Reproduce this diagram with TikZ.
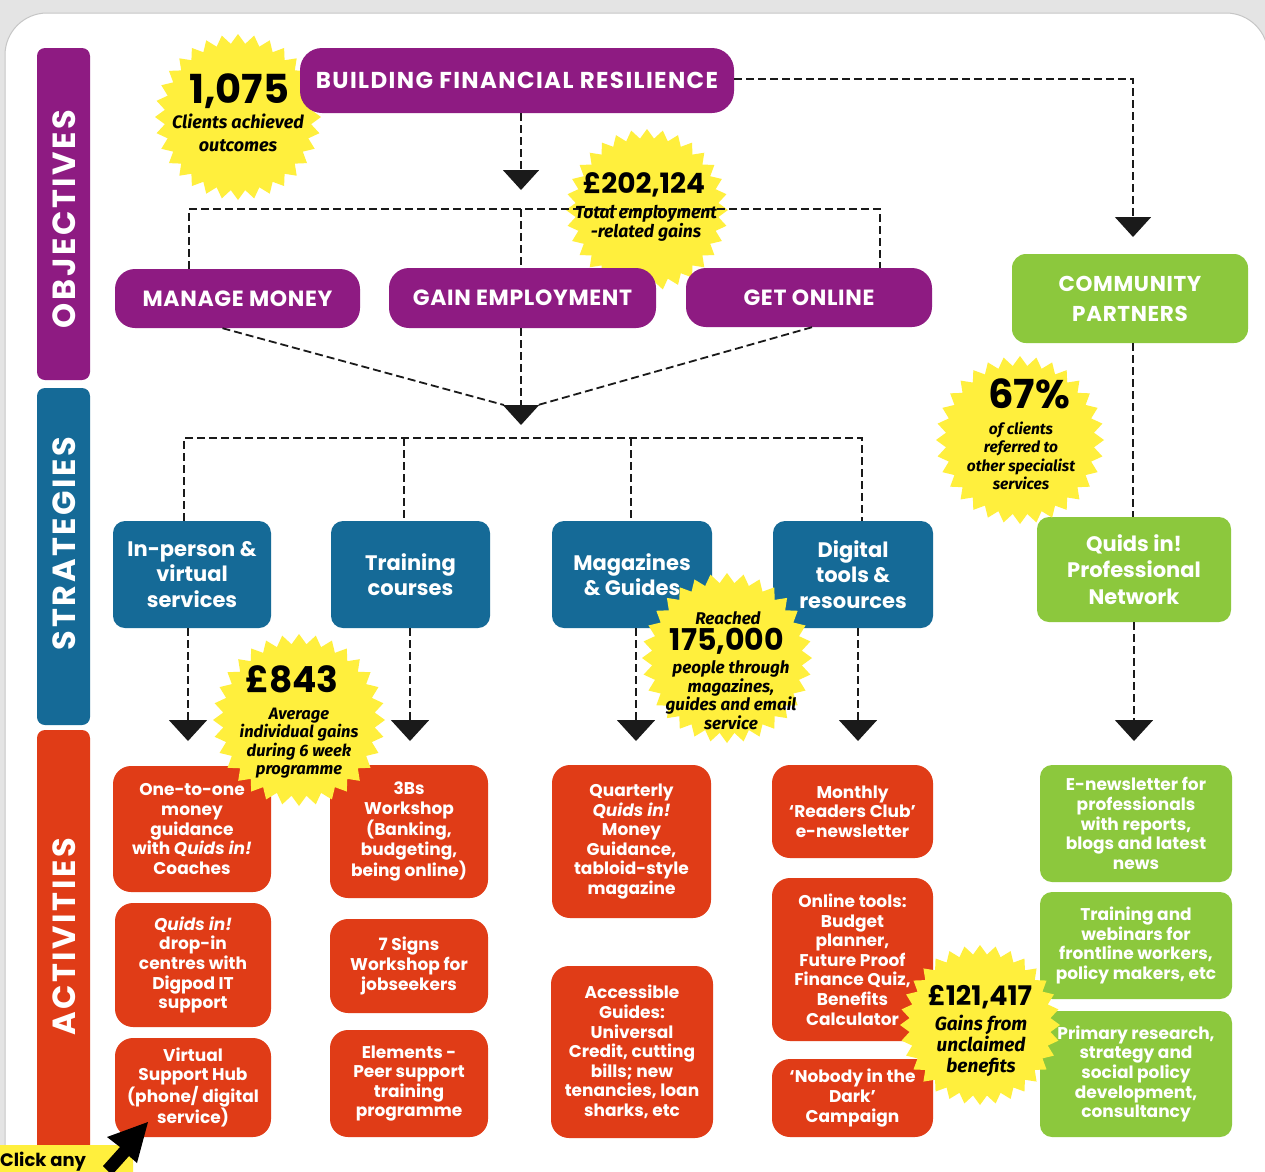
\documentclass[tikz,border=0pt]{standalone}
\usepackage{fontspec}
\setmainfont{Poppins}
\newfontfamily\hand{Fira Sans}
\usetikzlibrary{shapes.geometric,arrows.meta}
\definecolor{qpurple}{HTML}{8E1B82}
\definecolor{qblue}{HTML}{156A97}
\definecolor{qred}{HTML}{E03C17}
\definecolor{qgreen}{HTML}{8CC83D}
\definecolor{qyellow}{HTML}{FFEF3D}
\definecolor{qline}{HTML}{1A1A1A}
\definecolor{qbg}{HTML}{E4E4E4}
\newcommand\qfs[2]{\fontsize{#1}{#2}\selectfont}
\begin{document}
\begin{tikzpicture}[x=1pt,y=-1pt,
  obox/.style={fill=qpurple, rounded corners=20pt, text=white, font=\bfseries\qfs{22}{30}\addfontfeatures{LetterSpace=3}, align=center, inner sep=0pt},
  sbox/.style={fill=qblue, rounded corners=12pt, text=white, font=\bfseries\qfs{21}{25.5}, align=center, inner sep=0pt},
  abox/.style={fill=qred, rounded corners=18pt, text=white, font=\bfseries\qfs{17}{19.6}, align=center, inner sep=0pt},
  gbox/.style={fill=qgreen, rounded corners=12pt, text=white, font=\bfseries\qfs{17}{19.6}, align=center, inner sep=0pt},
  band/.style={rounded corners=8pt, inner sep=0pt, minimum width=53pt},
  bandtext/.style={rotate=90, text=white, font=\bfseries\qfs{32}{32}\addfontfeatures{LetterSpace=8}},
  dline/.style={draw=qline, line width=1.8pt, dash pattern=on 8pt off 4pt},
  arr/.style={-{Triangle[width=36pt,length=20pt]}},
  burst/.style={star, star points=32, star point ratio=1.13, fill=qyellow, inner sep=0pt},
  num/.style={font=\bfseries, text=black, inner sep=0pt},
  desc/.style={text=black, align=center, inner sep=0pt}
]
\useasboundingbox (0,0) rectangle (1265,1171);
\clip (0,0) rectangle (1265,1171);
% background card
\fill[qbg] (0,0) rectangle (1265,1171);
\filldraw[fill=white, draw=gray!45, line width=1pt, rounded corners=42pt] (5,13) rectangle (1268,1260);

% side bands
\node[band, fill=qpurple, minimum height=332pt] (objband) at (63.5,214) {};
\node[bandtext] (objtext) at (64,219) {OBJECTIVES};
\node[band, fill=qblue, minimum height=337pt] (strband) at (63.5,556.5) {};
\node[bandtext] (strtext) at (64,543.5) {STRATEGIES};
\node[band, fill=qred, minimum height=470pt] (actband) at (63.5,965) {};
\node[bandtext] (acttext) at (64,937) {ACTIVITIES};

% bursts under purple boxes
\node[burst, minimum size=166pt] (b1) at (238,117) {};
\node[burst, minimum size=162pt] (b2) at (647,210) {};

% connectors objectives
\coordinate (t1) at (521,190);
\coordinate (h1) at (521,209);
\coordinate (c1) at (1133,79);
\coordinate (c2) at (1133,237);
\coordinate (t2) at (521,425);
\coordinate (d1) at (504,405);
\coordinate (d2) at (538,405);
\coordinate (h2) at (521,438);

% nodes objectives
\node[obox, rounded corners=22pt, minimum width=434pt, minimum height=65pt, font=\bfseries\qfs{23}{25}\addfontfeatures{LetterSpace=6}] (bfr) at (517,80.5) {BUILDING FINANCIAL RESILIENCE};
\node[obox, minimum width=245pt, minimum height=59pt] (mm) at (237.5,298.5) {MANAGE MONEY};
\node[obox, minimum width=267pt, minimum height=60pt] (ge) at (522.5,298) {GAIN EMPLOYMENT};
\node[obox, minimum width=246pt, minimum height=59pt] (go) at (809,297.5) {GET ONLINE};
\node[gbox, rounded corners=14pt, minimum width=236pt, minimum height=89pt, font=\bfseries\qfs{21.5}{30}\addfontfeatures{LetterSpace=3}] (cp) at (1130,298.5) {COMMUNITY\\PARTNERS};

\draw[dline, arr] (bfr.south -| t1) -- (t1);
\draw[dline] (mm.north -| 189,0) -- (189,209) -- (880,209) -- (go.north -| 880,0);
\draw[dline] (h1) -- (ge.north -| h1);
\draw[dline, arr] (bfr.east |- c1) -- (c1) -- (c2);

% strategies
\node[sbox, minimum width=158pt, minimum height=107pt] (s1) at (192,574.5) {In-person \&\\virtual\\services};
\node[sbox, minimum width=159pt, minimum height=107pt] (s2) at (410.5,574.5) {Training\\courses};
\node[sbox, minimum width=160pt, minimum height=107pt] (s3) at (632,574.5) {Magazines\\\& Guides};
\node[sbox, minimum width=160pt, minimum height=107pt] (s4) at (853,574.5) {Digital\\tools \&\\resources};
\node[gbox, minimum width=194pt, minimum height=105pt, font=\bfseries\qfs{21}{26.5}] (pn) at (1134,569.5) {Quids in!\\Professional\\Network};

\draw[dline] ([xshift=-15pt]mm.south) -- (d1);
\draw[dline] ([xshift=3pt]go.south) -- (d2);
\draw[dline, arr] (ge.south -| t2) -- (t2);
\draw[dline] (s1.north -| 184,0) -- (184,438) -- (862,438) -- (s4.north -| 862,0);
\draw[dline] (404,438) -- (s2.north -| 404,0);
\draw[dline] (631,438) -- (s3.north -| 631,0);
\draw[dline] (cp.south -| 1133,0) -- (pn.north -| 1133,0);

% activities
\coordinate (e1) at (188,741);
\coordinate (e2) at (410,741);
\coordinate (e3) at (636,741);
\coordinate (e4) at (858,741);
\coordinate (e5) at (1134,741);
\draw[dline, -{Triangle[width=38pt,length=21pt]}] (s1.south -| e1) -- (e1);
\draw[dline, -{Triangle[width=38pt,length=21pt]}] (s2.south -| e2) -- (e2);
\draw[dline, -{Triangle[width=38pt,length=21pt]}] (s3.south -| e3) -- (e3);
\draw[dline, -{Triangle[width=38pt,length=21pt]}] (s4.south -| e4) -- (e4);
\draw[dline, -{Triangle[width=38pt,length=21pt]}] (pn.south -| e5) -- (e5);

\node[abox, minimum width=158pt, minimum height=126pt] (a11) at (192,829) {One-to-one\\money\\guidance\\with \textit{Quids in!}\\Coaches};
\node[abox, minimum width=156pt, minimum height=124pt] (a12) at (193,965) {\textit{Quids in!}\\drop-in\\centres with\\Digpod IT\\support};
\node[abox, minimum width=156pt, minimum height=99pt] (a13) at (193,1087.5) {Virtual\\Support Hub\\(phone/ digital\\service)};
\node[abox, minimum width=158pt, minimum height=133pt] (a21) at (409,831.5) {3Bs\\Workshop\\(Banking,\\budgeting,\\being online)};
\node[abox, minimum width=158pt, minimum height=94pt] (a22) at (409,966) {7 Signs\\Workshop for\\jobseekers};
\node[abox, minimum width=158pt, minimum height=107pt] (a23) at (409,1083.5) {Elements -\\Peer support\\training\\programme};
\node[abox, minimum width=159pt, minimum height=153pt] (a31) at (631.5,841.5) {Quarterly\\\textit{Quids in!}\\Money\\Guidance,\\tabloid-style\\magazine};
\node[abox, minimum width=162pt, minimum height=172pt] (a32) at (632,1052) {Accessible\\Guides:\\Universal\\Credit, cutting\\bills; new\\tenancies, loan\\sharks, etc};
\node[abox, minimum width=161pt, minimum height=93pt] (a41) at (852.5,811.5) {Monthly\\‘Readers Club’\\e-newsletter};
\node[abox, minimum width=161pt, minimum height=163pt] (a42) at (852.5,959.5) {Online tools:\\Budget\\planner,\\Future Proof\\Finance Quiz,\\Benefits\\Calculator};
\node[abox, minimum width=161pt, minimum height=78pt] (a43) at (852.5,1098) {‘Nobody in the\\Dark’\\Campaign};
\node[gbox, minimum width=192pt, minimum height=117pt] (g1) at (1136,823.5) {E-newsletter for\\professionals\\with reports,\\blogs and latest\\news};
\node[gbox, minimum width=192pt, minimum height=107pt] (g2) at (1136,945.5) {Training and\\webinars for\\frontline workers,\\policy makers, etc};
\node[gbox, minimum width=192pt, minimum height=126pt] (g3) at (1136,1074) {Primary research,\\strategy and\\social policy\\development,\\consultancy};

% bursts on top
\node[burst, minimum size=168pt] (b3) at (1020,440) {};
\node[burst, minimum size=172pt] (b4) at (299,720) {};
\node[burst, minimum size=170pt] (b5) at (727,658) {};
\node[burst, minimum size=160pt] (b6) at (980,1025) {};

% burst texts
\node[num, font=\bfseries\qfs{40}{40}] (n1) at (239,91) {1,075};
\node[desc, font=\hand\bfseries\itshape\qfs{18}{23}] (t1d) at (238,133) {Clients achieved\\outcomes};
\node[num, font=\bfseries\qfs{28}{28}] (n2) at (644,185) {£202,124};
\node[desc, font=\hand\bfseries\itshape\qfs{17.5}{19}] (t2d) at (646,223) {Total employment\\-related gains};
\node[num, font=\bfseries\qfs{40}{40}] (n3) at (1029,394) {67\%};
\node[desc, font=\hand\bfseries\itshape\qfs{15.5}{18.5}] (t3d) at (1021,456) {of clients\\referred to\\other specialist\\services};
\node[num, font=\bfseries\qfs{36}{36}] (n4) at (292,679) {£843};
\node[desc, font=\hand\bfseries\itshape\qfs{16.5}{18.5}] (t4d) at (299,743) {Average\\individual gains\\during 6 week\\programme};
\node[desc, font=\hand\bfseries\itshape\qfs{17}{17}] (t5a) at (728,618) {Reached};
\node[num, font=\bfseries\qfs{30}{30}] (n5) at (727,641) {175,000};
\node[desc, font=\hand\bfseries\itshape\qfs{17}{17}] (t5d) at (731,695) {people through\\magazines,\\guides and email\\service};
\node[num, font=\bfseries\qfs{27}{27}] (n6) at (980,997) {£121,417};
\node[desc, font=\hand\bfseries\itshape\qfs{19}{21}] (t6d) at (981,1046) {Gains from\\unclaimed\\benefits};

% click any
\fill[qyellow, rounded corners=14pt] (-30,1145) rectangle (133,1210);
\node[anchor=west, inner sep=0pt, font=\bfseries\qfs{18}{18}, text=black] (click) at (0,1162) {Click any};
\fill[black] (148,1122) -- (107,1137) -- (120,1147) -- (103,1166) -- (112,1175) -- (129,1156) -- (137,1163) -- cycle;
\end{tikzpicture}
\end{document}
